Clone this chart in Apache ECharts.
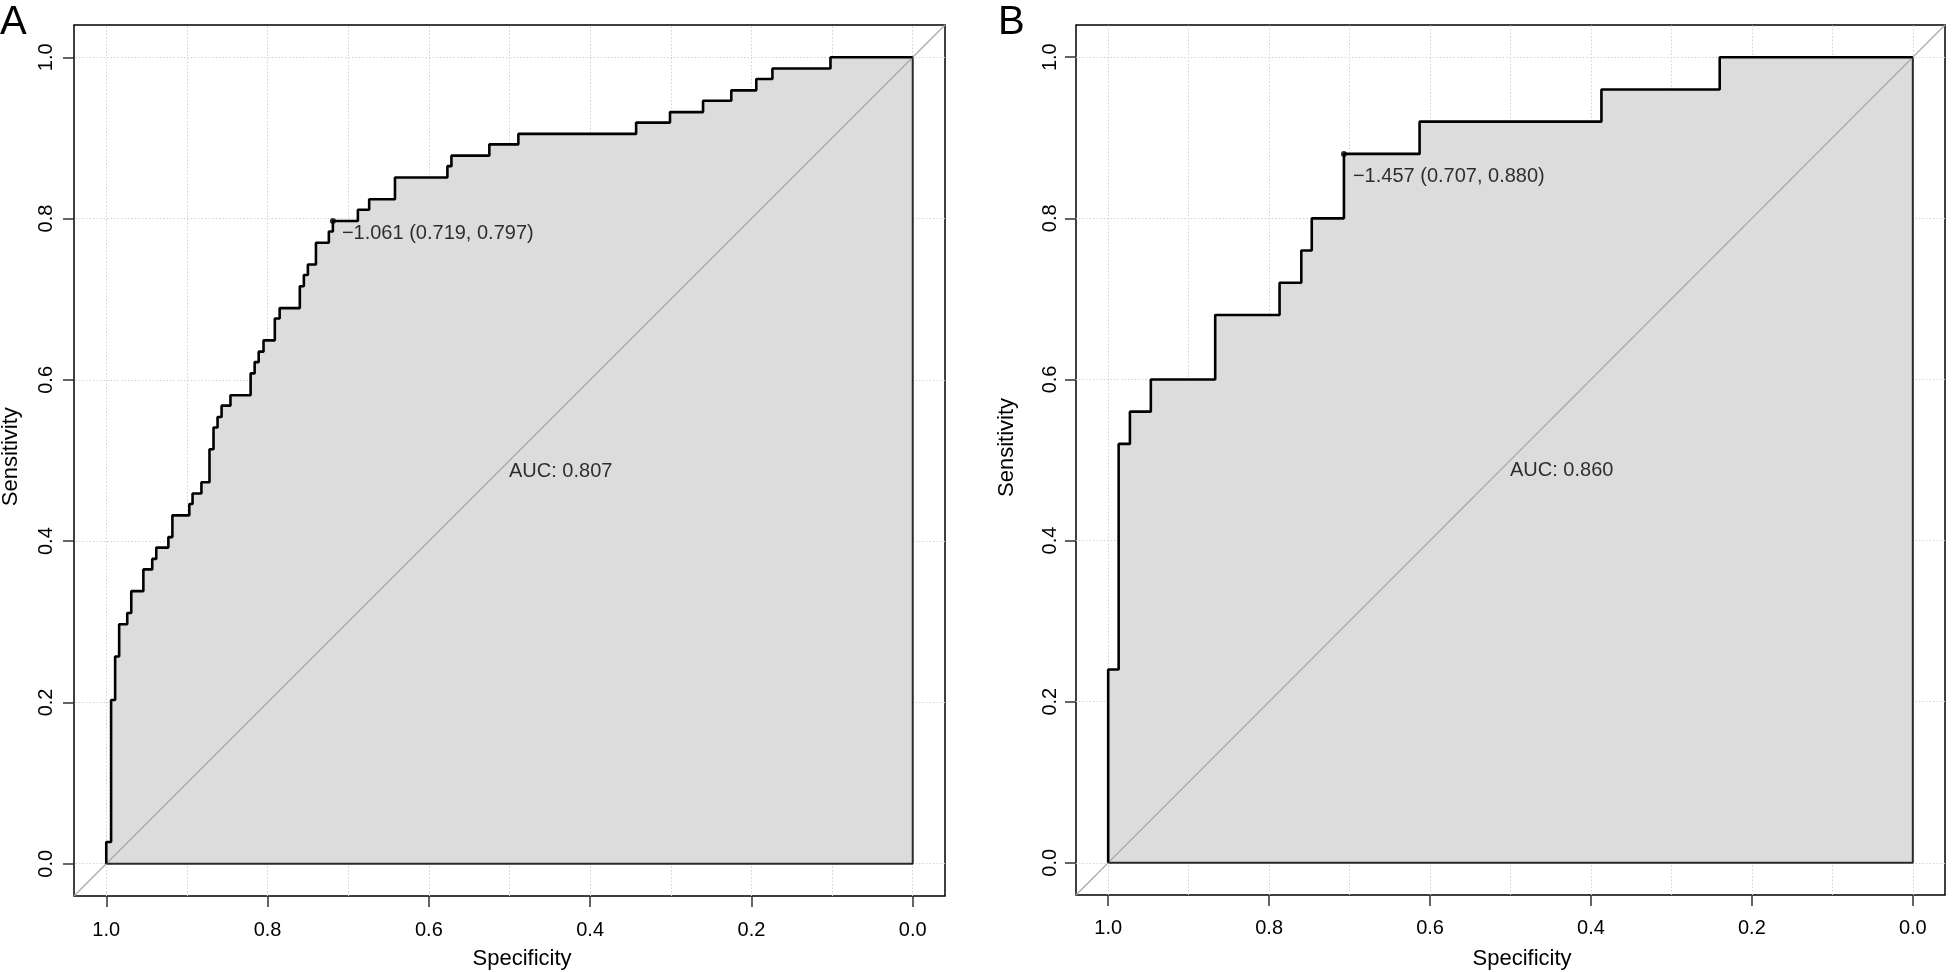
<!DOCTYPE html>
<html>
<head>
<meta charset="utf-8">
<script src="https://cdn.jsdelivr.net/npm/echarts@6/dist/echarts.min.js"></script>
<style>
html,body{margin:0;padding:0;background:#fff;}
#chart{width:1952px;height:972px;}
</style>
</head>
<body>
<div id="chart"></div>
<script>
// ---------------- DATA ----------------
// Panel A ROC curve coordinates (specificity, sensitivity)
const specA = [1.000,1.000,0.994,0.994,0.989,0.989,0.984,0.984,0.974,0.974,0.969,0.969,0.954,0.954,0.943,0.943,0.938,0.938,0.923,0.923,0.918,0.918,0.897,0.897,0.893,0.893,0.882,0.882,0.872,0.872,0.867,0.867,0.862,0.862,0.857,0.857,0.846,0.846,0.821,0.821,0.816,0.816,0.811,0.811,0.805,0.805,0.791,0.791,0.785,0.785,0.760,0.760,0.755,0.755,0.750,0.750,0.740,0.740,0.724,0.724,0.719,0.719,0.688,0.688,0.674,0.674,0.642,0.642,0.577,0.577,0.572,0.572,0.525,0.525,0.489,0.489,0.343,0.343,0.301,0.301,0.260,0.260,0.225,0.225,0.194,0.194,0.174,0.174,0.102,0.102,0.000];
const sensA = [0.000,0.027,0.027,0.203,0.203,0.257,0.257,0.297,0.297,0.311,0.311,0.338,0.338,0.365,0.365,0.378,0.378,0.392,0.392,0.405,0.405,0.432,0.432,0.446,0.446,0.459,0.459,0.473,0.473,0.514,0.514,0.541,0.541,0.554,0.554,0.568,0.568,0.581,0.581,0.608,0.608,0.622,0.622,0.635,0.635,0.649,0.649,0.676,0.676,0.689,0.689,0.716,0.716,0.730,0.730,0.743,0.743,0.770,0.770,0.784,0.784,0.797,0.797,0.811,0.811,0.824,0.824,0.851,0.851,0.865,0.865,0.878,0.878,0.892,0.892,0.905,0.905,0.919,0.919,0.932,0.932,0.946,0.946,0.959,0.959,0.973,0.973,0.986,0.986,1.000,1.000];
// Panel B ROC curve coordinates
const specB = [1.000,1.000,0.987,0.987,0.973,0.973,0.947,0.947,0.867,0.867,0.787,0.787,0.760,0.760,0.747,0.747,0.707,0.707,0.613,0.613,0.387,0.387,0.240,0.240,0.000];
const sensB = [0.000,0.240,0.240,0.520,0.520,0.560,0.560,0.600,0.600,0.680,0.680,0.720,0.720,0.760,0.760,0.800,0.800,0.880,0.880,0.920,0.920,0.960,0.960,1.000,1.000];

const panelLetters = ['A', 'B'];
const aucValues = [0.807, 0.860];
const thrValues = [-1.061, -1.457];
const thrSpec = [0.719, 0.707];
const thrSens = [0.797, 0.880];

const tickValues = [0, 0.2, 0.4, 0.6, 0.8, 1.0];
const vGridValues = [0, 0.1, 0.2, 0.3, 0.4, 0.5, 0.6, 0.7, 0.8, 0.9, 1.0];
const hGridValues = [0, 0.2, 0.4, 0.6, 0.8, 1.0];
const xTitle = 'Specificity';
const yTitle = 'Sensitivity';

// ---------------- LAYOUT / STYLE ----------------
const FONT = "'Liberation Sans', Arial, Helvetica, sans-serif";
const AX_MIN = -0.04, AX_MAX = 1.04;
const layout = [
  {left:74, top:25, width:871, height:871, yLabelMargin:18, xLabelMargin:24, thrOffset:[0,12.5], aucPos:[0.5,0.5],
   xTitlePos:[522,959], yTitlePos:[11,456.7], letterPos:[0,22.5]},
  {left:1076, top:25, width:869, height:870, yLabelMargin:16, xLabelMargin:23, thrOffset:[0,22.5], aucPos:[0.5,0.5],
   xTitlePos:[1522,959], yTitlePos:[1006.5,447.5], letterPos:[998,22.5]}
];
const curves = [[specA, sensA], [specB, sensB]];

function fmtNum(v) { return (v < 0 ? '\u2212' : '') + Math.abs(v).toFixed(3); }

const grids = [], xAxes = [], yAxes = [], series = [], graphics = [];

layout.forEach((l, i) => {
  grids.push({left:l.left, top:l.top, width:l.width, height:l.height, show:true,
    borderColor:'#000', borderWidth:1.5, backgroundColor:'transparent'});
  xAxes.push({gridIndex:i, type:'value', inverse:true, min:AX_MIN, max:AX_MAX,
    axisLine:{show:false, onZero:false},
    axisTick:{show:true, inside:false, length:11, customValues:tickValues, lineStyle:{color:'#333', width:1.5}},
    axisLabel:{show:true, customValues:tickValues, formatter:v => v.toFixed(1), fontSize:20, color:'#000', fontFamily:FONT, margin:l.xLabelMargin},
    splitLine:{show:false}});
  yAxes.push({gridIndex:i, type:'value', min:AX_MIN, max:AX_MAX,
    axisLine:{show:false, onZero:false},
    axisTick:{show:true, inside:false, length:11, customValues:tickValues, lineStyle:{color:'#333', width:1.5}},
    axisLabel:{show:true, customValues:tickValues, rotate:90, formatter:v => v.toFixed(1), fontSize:20, color:'#000', fontFamily:FONT, margin:l.yLabelMargin},
    splitLine:{show:false}});

  const [sp, se] = curves[i];
  const pts = sp.map((s, k) => [s, se[k]]);
  const n = pts.length - 1;

  // dotted grid
  series.push({type:'line', xAxisIndex:i, yAxisIndex:i, data:[], z:1, silent:true, symbol:'none',
    markLine:{z:1, silent:true, symbol:['none','none'], label:{show:false}, emphasis:{disabled:true},
      lineStyle:{color:'#d2d2d2', type:[1.5,2], width:1},
      data: vGridValues.map(v => ({xAxis:v})).concat(hGridValues.map(v => ({yAxis:v})))}});
  // AUC polygon fill
  series.push({type:'line', xAxisIndex:i, yAxisIndex:i, data:pts, z:2, silent:true, symbol:'none',
    lineStyle:{width:0}, areaStyle:{color:'#DCDCDC', opacity:1, origin:'auto'}});
  // polygon border (right + bottom)
  series.push({type:'line', xAxisIndex:i, yAxisIndex:i, z:3, silent:true, symbol:'none',
    data:[[sp[n], se[n]], [sp[n], se[0]], [sp[0], se[0]]],
    lineStyle:{color:'#2a2a2a', width:2}});
  // identity line
  series.push({type:'line', xAxisIndex:i, yAxisIndex:i, z:3, silent:true, symbol:'none',
    data:[[AX_MAX, 1 - AX_MAX], [AX_MIN, 1 - AX_MIN]],
    lineStyle:{color:'#A9A9A9', width:1.2}});
  // ROC curve
  series.push({type:'line', xAxisIndex:i, yAxisIndex:i, z:4, silent:true, symbol:'none',
    data:pts, lineStyle:{color:'#000', width:2.6}});
  // best threshold point
  series.push({type:'scatter', xAxisIndex:i, yAxisIndex:i, z:5, silent:true,
    data:[[thrSpec[i], thrSens[i]]], symbolSize:6, itemStyle:{color:'#000'},
    label:{show:true, position:'right', distance:6, offset:l.thrOffset, color:'#000', fontSize:20, fontFamily:FONT,
      formatter: () => fmtNum(thrValues[i]) + ' (' + thrSpec[i].toFixed(3) + ', ' + thrSens[i].toFixed(3) + ')'}});
  // AUC label
  series.push({type:'scatter', xAxisIndex:i, yAxisIndex:i, z:5, silent:true,
    data:[l.aucPos], symbolSize:1, itemStyle:{color:'rgba(0,0,0,0)'},
    label:{show:true, position:[0,0], align:'left', verticalAlign:'top', offset:[0,1], color:'#000', fontSize:20, fontFamily:FONT,
      formatter: () => 'AUC: ' + aucValues[i].toFixed(3)}});

  graphics.push({type:'text', x:l.letterPos[0], y:l.letterPos[1], silent:true,
    style:{text:panelLetters[i], fontSize:40, fontFamily:FONT, fill:'#000', align:'left', textAlign:'left', verticalAlign:'middle', textVerticalAlign:'middle'}});
  graphics.push({type:'text', x:l.xTitlePos[0], y:l.xTitlePos[1], silent:true,
    style:{text:xTitle, fontSize:22, fontFamily:FONT, fill:'#000', align:'center', textAlign:'center', verticalAlign:'middle', textVerticalAlign:'middle'}});
  graphics.push({type:'text', x:l.yTitlePos[0], y:l.yTitlePos[1], rotation:Math.PI/2, silent:true,
    style:{text:yTitle, fontSize:22, fontFamily:FONT, fill:'#000', align:'center', textAlign:'center', verticalAlign:'middle', textVerticalAlign:'middle'}});
});

const chart = echarts.init(document.getElementById('chart'), null, {renderer:'canvas'});
chart.setOption({
  animation:false,
  backgroundColor:'#fff',
  grid:grids, xAxis:xAxes, yAxis:yAxes, series:series, graphic:graphics
});
</script>
</body>
</html>
